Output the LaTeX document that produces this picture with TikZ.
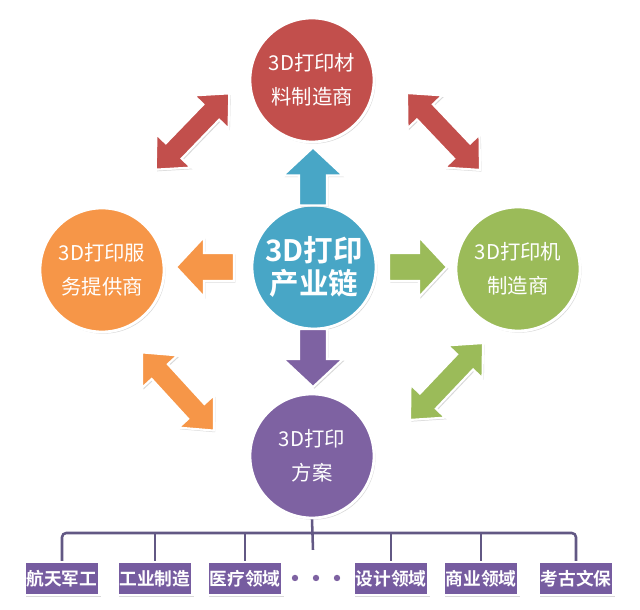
\documentclass[tikz,border=0pt]{standalone}
\usepackage{fontspec}
\newfontfamily\cjk{Noto Sans CJK SC}[BoldFont={Noto Sans CJK SC Bold}]
\usetikzlibrary{calc,shadows}

\definecolor{matred}{RGB}{194,79,76}
\definecolor{chainblue}{RGB}{72,166,198}
\definecolor{svcorange}{RGB}{246,150,72}
\definecolor{machgreen}{RGB}{155,187,89}
\definecolor{solpurple}{RGB}{126,98,162}
\definecolor{fieldpurple}{RGB}{118,92,160}
\definecolor{busgray}{RGB}{98,88,132}

\tikzset{
  softshadow/.style={drop shadow={opacity=0.3, shadow xshift=1pt, shadow yshift=-1.2pt}},
  ball/.style={circle, draw=white, line width=2pt, minimum size=3.1cm, inner sep=0pt,
    text=white, align=center, font=\cjk\fontsize{14.5}{24}\selectfont, softshadow},
  fieldbox/.style={rectangle, fill=fieldpurple, draw=white, line width=1.5pt,
    minimum width=1.875cm, minimum height=0.825cm, inner sep=0pt,
    text=white, font=\cjk\bfseries\fontsize{12.6}{12.6}\selectfont, softshadow},
  busline/.style={draw=busgray, line width=1.8pt},
  arrowbody/.style={draw=white, line width=1.5pt, line join=miter, softshadow},
  pics/onearrow/.style={code={
    \path[arrowbody, fill=#1] (-29,-14) -- (1,-14) -- (1,-30) -- (29,0)
      -- (1,30) -- (1,14) -- (-29,14) -- cycle;
  }},
  pics/twoarrow/.style={code={
    \path[arrowbody, fill=#1] (-53,0) -- (-27,-24) -- (-27,-11) -- (27,-11)
      -- (27,-24) -- (53,0) -- (27,24) -- (27,11) -- (-27,11) -- (-27,24) -- cycle;
  }},
}

\begin{document}
\begin{tikzpicture}[x=0.025cm, y=0.025cm]

\useasboundingbox (0,0) rectangle (640,610);

% the five circles
\node[ball, fill=matred] (mat) at (312,530) {3D打印材\\料制造商};
\node[ball, fill=chainblue, font=\cjk\bfseries\fontsize{21}{23.5}\selectfont] (chain) at (314,343) {3D打印\\产业链};
\node[ball, fill=svcorange] (svc) at (102,340) {3D打印服\\务提供商};
\node[ball, fill=machgreen] (mach) at (518,341) {3D打印机\\制造商};
\node[ball, fill=solpurple] (sol) at (312,154) {3D打印\\方案};

% arrows out of the centre
\pic[rotate=90] at ($(chain)!0.5!(mat)+(0,-3)$) {onearrow=chainblue};
\pic[rotate=-90] at ($(chain)!0.5!(sol)+(0,3.5)$) {onearrow=solpurple};
\pic[rotate=180] at ($(chain)!0.5!(svc)+(-3,1.5)$) {onearrow=svcorange};
\pic at ($(chain)!0.5!(mach)+(2,1)$) {onearrow=machgreen};

% arrows round the ring
\pic[rotate=46] at ($(mat)!0.5!(svc)+(-14.5,43.5)$) {twoarrow=matred};
\pic[rotate=-46.5] at ($(mat)!0.5!(mach)+(28.5,43)$) {twoarrow=matred};
\pic[rotate=-47.5] at ($(svc)!0.5!(sol)+(-29,-28.5)$) {twoarrow=svcorange};
\pic[rotate=46.5] at ($(mach)!0.5!(sol)+(31.5,-19)$) {twoarrow=machgreen};

% fields of use
\node[fieldbox] (f1) at (62,31.5) {航天军工};
\node[fieldbox] (f2) at (155,31.5) {工业制造};
\node[fieldbox] (f3) at (245,31.5) {医疗领域};
\node[fieldbox] (f4) at (391,31.5) {设计领域};
\node[fieldbox] (f5) at (481,31.5) {商业领域};
\node[fieldbox] (f6) at (576,31.5) {考古文保};

\coordinate (split) at (313,77);
\draw[busline] (sol.south) -- ([yshift=-12]split);
\draw[busline, rounded corners=3] (f1.north) |- (split) -| (f6.north);
\foreach \f in {f2,f3,f4,f5}
  \draw[busline] (\f.north) -- (\f.north |- split);

\fill[solpurple] (295,32) circle (3.2);
\fill[solpurple] (316,32) circle (3.2);
\fill[solpurple] (337,32) circle (3.2);

\end{tikzpicture}
\end{document}
